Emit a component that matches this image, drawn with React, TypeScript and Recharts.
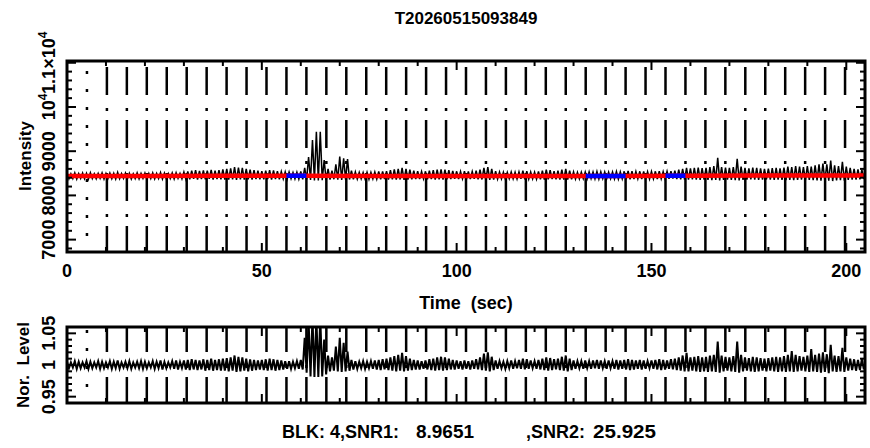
import { LineChart, Line, XAxis, YAxis, ReferenceLine } from 'recharts';

// sample times (s), one per second
const times = Array.from({ length: 205 }, (_, i) => i);

// upper / lower edge of the intensity trace for each second
const rawHigh = [
  8500, 8490, 8510, 8495, 8505, 8500, 8515, 8490, 8500, 8510,
  8495, 8505, 8500, 8520, 8495, 8505, 8500, 8490, 8510, 8500,
  8505, 8495, 8510, 8500, 8520, 8505, 8495, 8510, 8515, 8500,
  8530, 8545, 8560, 8570, 8555, 8565, 8560, 8575, 8560, 8570,
  8590, 8600, 8610, 8640, 8630, 8620, 8600, 8580, 8570, 8560,
  8550, 8560, 8570, 8565, 8550, 8540, 8535, 8530, 8520, 8525,
  8540, 8620, 8870, 9250, 9440, 9440, 8800, 8600, 8560, 8700,
  8880, 8840, 8820, 8560, 8530, 8520, 8515, 8525, 8520, 8530,
  8540, 8545, 8550, 8570, 8590, 8600, 8620, 8600, 8580, 8560,
  8550, 8540, 8545, 8560, 8570, 8580, 8590, 8585, 8570, 8555,
  8545, 8540, 8550, 8545, 8540, 8560, 8580, 8620, 8640, 8600,
  8550, 8530, 8525, 8520, 8530, 8525, 8535, 8560, 8550, 8530,
  8525, 8540, 8560, 8580, 8570, 8550, 8560, 8580, 8600, 8560,
  8530, 8520, 8525, 8530, 8535, 8530, 8540, 8535, 8530, 8525,
  8530, 8540, 8535, 8545, 8555, 8550, 8540, 8545, 8540, 8535,
  8540, 8545, 8550, 8540, 8545, 8550, 8560, 8580, 8600, 8620,
  8610, 8620, 8630, 8615, 8625, 8640, 8660, 8850, 8640, 8630,
  8620, 8640, 8830, 8650, 8620, 8610, 8630, 8620, 8610, 8600,
  8605, 8615, 8620, 8610, 8630, 8650, 8640, 8660, 8650, 8640,
  8660, 8650, 8680, 8700, 8720, 8700, 8790, 8680, 8660, 8760,
  8650, 8620, 8600, 8590, 8580,
];
const rawLow = [
  8375, 8380, 8370, 8385, 8375, 8370, 8380, 8375, 8385, 8370,
  8380, 8375, 8370, 8380, 8385, 8375, 8370, 8380, 8375, 8385,
  8370, 8380, 8375, 8385, 8370, 8375, 8380, 8370, 8385, 8375,
  8370, 8365, 8375, 8360, 8370, 8365, 8375, 8360, 8370, 8365,
  8360, 8355, 8365, 8350, 8360, 8355, 8365, 8360, 8370, 8365,
  8365, 8370, 8360, 8370, 8365, 8375, 8370, 8380, 8375, 8370,
  8365, 8360, 8350, 8340, 8340, 8345, 8350, 8360, 8365, 8355,
  8350, 8355, 8360, 8365, 8370, 8375, 8370, 8365, 8375, 8370,
  8365, 8370, 8360, 8365, 8355, 8360, 8350, 8360, 8365, 8370,
  8370, 8375, 8365, 8370, 8360, 8365, 8355, 8365, 8370, 8375,
  8370, 8375, 8365, 8370, 8375, 8365, 8360, 8355, 8350, 8360,
  8370, 8375, 8370, 8380, 8375, 8370, 8375, 8365, 8370, 8375,
  8370, 8365, 8360, 8365, 8370, 8365, 8360, 8355, 8360, 8365,
  8370, 8375, 8380, 8375, 8380, 8375, 8370, 8380, 8375, 8380,
  8375, 8370, 8375, 8370, 8365, 8370, 8375, 8370, 8365, 8370,
  8375, 8370, 8375, 8380, 8375, 8380, 8370, 8365, 8360, 8355,
  8360, 8355, 8350, 8355, 8350, 8345, 8350, 8340, 8350, 8355,
  8350, 8345, 8340, 8350, 8355, 8360, 8355, 8350, 8355, 8360,
  8355, 8350, 8355, 8350, 8345, 8350, 8345, 8350, 8355, 8345,
  8350, 8345, 8340, 8335, 8330, 8335, 8325, 8340, 8345, 8335,
  8350, 8355, 8360, 8365, 8370,
];

// smooth background fit (red)
const fitTimes = [0, 20, 40, 60, 80, 100, 120, 140, 160, 180, 204.8];
const fitValues = [8440, 8440, 8445, 8445, 8440, 8440, 8440, 8440, 8445, 8450, 8450];

// blocks marked in blue
const blueStarts = [56.32, 133.12, 153.6];
const blueEnds = [61.44, 143.36, 158.72];
const blueLevel = [8445, 8440, 8445];

// normalized level, upper / lower edge per second
const normHigh = [
  1.005, 1.004, 1.006, 1.005, 1.004, 1.006, 1.005, 1.004, 1.006, 1.005,
  1.004, 1.006, 1.005, 1.007, 1.004, 1.005, 1.006, 1.004, 1.005, 1.006,
  1.005, 1.004, 1.006, 1.005, 1.007, 1.005, 1.004, 1.006, 1.007, 1.005,
  1.007, 1.008, 1.009, 1.008, 1.007, 1.009, 1.008, 1.010, 1.008, 1.009,
  1.010, 1.011, 1.012, 1.015, 1.013, 1.012, 1.010, 1.009, 1.008, 1.007,
  1.008, 1.009, 1.010, 1.009, 1.008, 1.007, 1.006, 1.006, 1.005, 1.006,
  1.008, 1.043, 1.070, 1.075, 1.075, 1.075, 1.040, 1.015, 1.012, 1.029,
  1.043, 1.035, 1.021, 1.008, 1.006, 1.005, 1.006, 1.005, 1.006, 1.007,
  1.008, 1.009, 1.010, 1.012, 1.014, 1.016, 1.019, 1.014, 1.010, 1.008,
  1.007, 1.006, 1.007, 1.009, 1.010, 1.012, 1.013, 1.012, 1.010, 1.008,
  1.007, 1.006, 1.007, 1.006, 1.007, 1.009, 1.012, 1.018, 1.020, 1.013,
  1.007, 1.006, 1.005, 1.006, 1.007, 1.006, 1.008, 1.010, 1.009, 1.007,
  1.006, 1.008, 1.010, 1.012, 1.011, 1.009, 1.010, 1.013, 1.015, 1.010,
  1.007, 1.006, 1.006, 1.007, 1.006, 1.007, 1.008, 1.007, 1.006, 1.007,
  1.006, 1.008, 1.007, 1.008, 1.009, 1.008, 1.007, 1.008, 1.007, 1.006,
  1.007, 1.008, 1.009, 1.008, 1.007, 1.009, 1.010, 1.012, 1.015, 1.019,
  1.012, 1.013, 1.014, 1.012, 1.013, 1.015, 1.016, 1.037, 1.015, 1.013,
  1.012, 1.014, 1.037, 1.016, 1.012, 1.011, 1.013, 1.012, 1.011, 1.010,
  1.011, 1.012, 1.013, 1.012, 1.014, 1.016, 1.022, 1.016, 1.014, 1.013,
  1.015, 1.025, 1.016, 1.018, 1.020, 1.017, 1.032, 1.015, 1.014, 1.027,
  1.012, 1.010, 1.009, 1.008, 1.009,
];
const normLow = [
  0.995, 0.996, 0.994, 0.995, 0.996, 0.994, 0.995, 0.996, 0.994, 0.995,
  0.996, 0.994, 0.995, 0.994, 0.996, 0.995, 0.994, 0.996, 0.995, 0.994,
  0.995, 0.996, 0.994, 0.995, 0.993, 0.995, 0.996, 0.994, 0.993, 0.995,
  0.993, 0.992, 0.993, 0.992, 0.993, 0.991, 0.992, 0.991, 0.992, 0.991,
  0.991, 0.990, 0.991, 0.989, 0.990, 0.991, 0.990, 0.991, 0.992, 0.993,
  0.992, 0.991, 0.992, 0.991, 0.992, 0.993, 0.994, 0.994, 0.995, 0.994,
  0.993, 0.988, 0.982, 0.981, 0.981, 0.982, 0.985, 0.990, 0.991, 0.990,
  0.989, 0.990, 0.991, 0.993, 0.994, 0.995, 0.994, 0.995, 0.994, 0.993,
  0.992, 0.993, 0.992, 0.991, 0.990, 0.991, 0.990, 0.991, 0.992, 0.993,
  0.993, 0.994, 0.993, 0.992, 0.991, 0.992, 0.991, 0.992, 0.993, 0.993,
  0.994, 0.993, 0.994, 0.993, 0.994, 0.993, 0.992, 0.991, 0.990, 0.992,
  0.994, 0.995, 0.994, 0.995, 0.994, 0.995, 0.994, 0.993, 0.994, 0.995,
  0.994, 0.993, 0.992, 0.991, 0.992, 0.993, 0.992, 0.991, 0.990, 0.992,
  0.994, 0.995, 0.994, 0.995, 0.994, 0.995, 0.994, 0.995, 0.994, 0.995,
  0.994, 0.993, 0.994, 0.993, 0.992, 0.993, 0.994, 0.993, 0.994, 0.995,
  0.994, 0.993, 0.992, 0.993, 0.994, 0.993, 0.992, 0.991, 0.990, 0.990,
  0.991, 0.990, 0.989, 0.990, 0.989, 0.990, 0.989, 0.988, 0.990, 0.991,
  0.990, 0.989, 0.988, 0.990, 0.991, 0.990, 0.989, 0.990, 0.991, 0.990,
  0.991, 0.990, 0.989, 0.990, 0.989, 0.990, 0.989, 0.990, 0.991, 0.990,
  0.989, 0.990, 0.989, 0.988, 0.989, 0.987, 0.990, 0.989, 0.990, 0.989,
  0.991, 0.992, 0.991, 0.992, 0.993,
];

// block boundaries (s)
const blockTimes = [
  5.12, 10.24, 15.36, 20.48, 25.6, 30.72, 35.84, 40.96, 46.08, 51.2,
  56.32, 61.44, 66.56, 71.68, 76.8, 81.92, 87.04, 92.16, 97.28, 102.4,
  107.52, 112.64, 117.76, 122.88, 128, 133.12, 138.24, 143.36, 148.48, 153.6,
  158.72, 163.84, 168.96, 174.08, 179.2, 184.32, 189.44, 194.56, 199.68,
];

// axes
const xDomain = [0, 204.8];
const xMajor = [0, 50, 100, 150, 200];
const xMinor = [10, 20, 30, 40, 60, 70, 80, 90, 110, 120, 130, 140, 160, 170, 180, 190];
const xLabels = ['0', '50', '100', '150', '200'];

const topDomain = [6720, 11040];
const topMajor = [7000, 8000, 9000, 10000, 11000];
const topMinor = [6800, 7200, 7400, 7600, 7800, 8200, 8400, 8600, 8800, 9200, 9400, 9600, 9800, 10200, 10400, 10600, 10800];
const topLabels = ['7000', '8000', '9000', '10^4', '1.1×10^4'];

const botDomain = [0.94, 1.06];
const botMajor = [0.95, 1, 1.05];
const botMinor = [0.96, 0.97, 0.98, 0.99, 1.01, 1.02, 1.03, 1.04];
const botLabels = ['0.95', '1', '1.05'];

const FONT = '"Liberation Sans", Arial, Helvetica, sans-serif';
const TICK_FS = 18;

// plot boxes (px) that the chart margins below produce
const BOX_L = 67;
const BOX_R = 865;
const TOP_BOX = [61, 252];
const BOT_BOX = [327, 403];

function renderLabel(s: string) {
  const parts = s.split('^');
  if (parts.length === 1) return s;
  return (
    <>
      {parts[0]}
      <tspan dy={-8} fontSize={12}>{parts[1]}</tspan>
    </>
  );
}

function xTickLabel(props: any) {
  const { x, y, payload } = props;
  const idx = xMajor.indexOf(payload.value);
  if (idx < 0) return <g />;
  return (
    <text x={x} y={y + 25} textAnchor="middle" fontSize={TICK_FS} fontWeight="bold" fontFamily={FONT} fill="#000">
      {xLabels[idx]}
    </text>
  );
}

function makeYTickLabel(majors: number[], labels: string[]) {
  return (props: any) => {
    const { x, y, payload } = props;
    const idx = majors.indexOf(payload.value);
    if (idx < 0) return <g />;
    const bx = x - 12;
    return (
      <text x={bx} y={y} transform={`rotate(-90 ${bx} ${y})`} textAnchor="middle"
        fontSize={TICK_FS} fontWeight="bold" fontFamily={FONT} fill="#000">
        {renderLabel(labels[idx])}
      </text>
    );
  };
}

function blockStyle(k: number) {
  if (k === 0) return '3 15';
  if (k === blockTimes.length - 1) return '28 25';
  return '28 9 3 13';
}

// IDL-style box with inward ticks on all four sides
function AxisBox({ box, yDom, yMaj, yMin }: { box: number[]; yDom: number[]; yMaj: number[]; yMin: number[] }) {
  const [top, bottom] = box;
  const sx = (v: number) => BOX_L + ((v - xDomain[0]) / (xDomain[1] - xDomain[0])) * (BOX_R - BOX_L);
  const sy = (v: number) => bottom - ((v - yDom[0]) / (yDom[1] - yDom[0])) * (bottom - top);
  const lines: any[] = [];
  [...xMajor, ...xMinor].forEach((v) => {
    const len = xMajor.includes(v) ? 9 : 5;
    const x = sx(v);
    lines.push(<line key={'xb' + v} x1={x} x2={x} y1={bottom} y2={bottom - len} />);
    lines.push(<line key={'xt' + v} x1={x} x2={x} y1={top} y2={top + len} />);
  });
  [...yMaj, ...yMin].forEach((v) => {
    const len = yMaj.includes(v) ? 9 : 5;
    const y = sy(v);
    lines.push(<line key={'yl' + v} x1={BOX_L} x2={BOX_L + len} y1={y} y2={y} />);
    lines.push(<line key={'yr' + v} x1={BOX_R} x2={BOX_R - len} y1={y} y2={y} />);
  });
  return (
    <g stroke="#000" fill="none">
      <g strokeWidth={2}>{lines}</g>
      <rect x={BOX_L} y={top} width={BOX_R - BOX_L} height={bottom - top} strokeWidth={3} />
    </g>
  );
}

export default function App() {
  const rawRows = times.flatMap((t, i) => [{ t, v: rawHigh[i] }, { t: t + 0.5, v: rawLow[i] }]);
  const normRows = times.flatMap((t, i) => [{ t, v: normHigh[i] }, { t: t + 0.5, v: normLow[i] }]);
  const fitRows = fitTimes.map((t, i) => ({ t, v: fitValues[i] }));
  const blueRows = blueStarts.map((s, i) => [
    { t: s, v: blueLevel[i] },
    { t: blueEnds[i], v: blueLevel[i] },
  ]);

  const blockLines = (yDom: number[]) =>
    blockTimes.map((t, k) => (
      <ReferenceLine
        key={'b' + k}
        segment={[{ x: t, y: yDom[0] }, { x: t, y: yDom[1] }]}
        stroke="#000"
        strokeWidth={2.5}
        strokeDasharray={blockStyle(k)}
        strokeDashoffset={2}
        ifOverflow="hidden"
      />
    ));

  const txt = { fontFamily: FONT, fontWeight: 'bold' as const, fill: '#000' };
  const ticksX = [...xMajor, ...xMinor];

  return (
    <div style={{ position: 'absolute', left: 0, top: 0, width: 870, height: 448, background: '#fff', fontFamily: FONT }}>
      <div style={{ position: 'absolute', left: 0, top: 0 }}>
        <LineChart width={870} height={448} margin={{ top: 61, right: 5, left: 7, bottom: 166 }}>
          <XAxis type="number" dataKey="t" domain={xDomain} allowDataOverflow ticks={ticksX} interval={0}
            tickSize={0} tickMargin={0} height={30} axisLine={false} tickLine={false} tick={xTickLabel} />
          <YAxis type="number" domain={topDomain} allowDataOverflow ticks={topMajor} interval={0}
            tickSize={0} tickMargin={0} width={60} axisLine={false} tickLine={false}
            tick={makeYTickLabel(topMajor, topLabels)} />
          {blockLines(topDomain)}
          <Line data={rawRows} dataKey="v" stroke="#000" strokeWidth={1.5} dot={false} activeDot={false} isAnimationActive={false} />
          <Line data={fitRows} dataKey="v" stroke="#ff0000" strokeWidth={4.5} dot={false} activeDot={false} isAnimationActive={false} />
          {blueRows.map((rows, i) => (
            <Line key={'blue' + i} data={rows} dataKey="v" stroke="#0000ff" strokeWidth={4.5} dot={false} activeDot={false} isAnimationActive={false} />
          ))}
        </LineChart>
      </div>
      <div style={{ position: 'absolute', left: 0, top: 0 }}>
        <LineChart width={870} height={448} margin={{ top: 327, right: 5, left: 7, bottom: 45 }}>
          <XAxis type="number" dataKey="t" domain={xDomain} allowDataOverflow hide />
          <YAxis type="number" domain={botDomain} allowDataOverflow ticks={botMajor} interval={0}
            tickSize={0} tickMargin={0} width={60} axisLine={false} tickLine={false}
            tick={makeYTickLabel(botMajor, botLabels)} />
          {blockLines(botDomain)}
          <Line data={normRows} dataKey="v" stroke="#000" strokeWidth={2} dot={false} activeDot={false} isAnimationActive={false} />
        </LineChart>
      </div>
      <svg width={870} height={448} style={{ position: 'absolute', left: 0, top: 0, pointerEvents: 'none' }}>
        <AxisBox box={TOP_BOX} yDom={topDomain} yMaj={topMajor} yMin={topMinor} />
        <AxisBox box={BOT_BOX} yDom={botDomain} yMaj={botMajor} yMin={botMinor} />
        <text x={466} y={24} textAnchor="middle" fontSize={17} {...txt}>T20260515093849</text>
        <text x={25} y={156} transform="rotate(-90 25 156)" textAnchor="middle" dominantBaseline="central" fontSize={17} {...txt}>Intensity</text>
        <text x={466} y={309} textAnchor="middle" fontSize={18} {...txt} style={{ whiteSpace: 'pre' }}>{'Time  (sec)'}</text>
        <text x={23} y={365} transform="rotate(-90 23 365)" textAnchor="middle" dominantBaseline="central" fontSize={17} {...txt} style={{ whiteSpace: 'pre' }}>{'Nor.  Level'}</text>
        <text y={438} fontSize={18} {...txt} style={{ whiteSpace: 'pre' }}>
          <tspan x={282}>BLK: 4,SNR1:</tspan>
          <tspan x={416} textLength={58} lengthAdjust="spacingAndGlyphs">8.9651</tspan>
          <tspan x={526}>,SNR2:</tspan>
          <tspan x={593} textLength={63} lengthAdjust="spacingAndGlyphs">25.925</tspan>
        </text>
      </svg>
    </div>
  );
}
